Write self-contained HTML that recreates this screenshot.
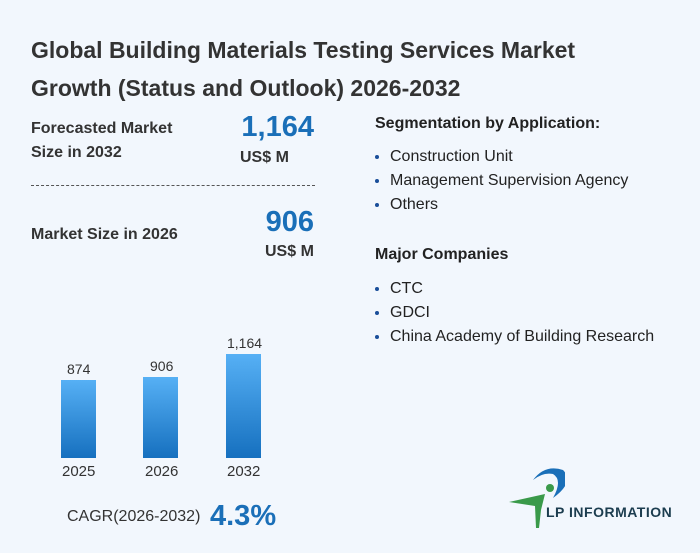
<!DOCTYPE html>
<html><head><meta charset="utf-8"><style>
body{margin:0}
#c{position:relative;width:700px;height:553px;background:#f2f7fd;font-family:"Liberation Sans",sans-serif;color:#333;overflow:hidden}
.a{position:absolute;white-space:nowrap}
.b{font-weight:bold}
.blue{color:#1a6fb8}
.bar{position:absolute;width:35px;background:linear-gradient(#56b0f5,#1670bf)}
.li{position:absolute;left:375px;font-size:16px;color:#222}
.li:before{content:"";position:absolute;left:0;top:7px;width:4px;height:4px;border-radius:50%;background:#1a4f9a}
.li span{margin-left:15px}
</style></head><body><div id="c">
<div class="a b" style="left:31px;top:31px;font-size:23px;line-height:38px;color:#333">Global Building Materials Testing Services Market<br>Growth (Status and Outlook) 2026-2032</div>
<div class="a b" style="left:31px;top:117px;font-size:16px;line-height:24px">Forecasted Market<br>Size in 2032</div>
<div class="a b blue" style="right:386px;top:111px;font-size:29px">1,164</div>
<div class="a b" style="left:240px;top:149px;font-size:16px">US$ M</div>
<div class="a" style="left:31px;top:185px;width:284px;border-top:1px dashed #555"></div>
<div class="a b" style="left:31px;top:226px;font-size:16px">Market Size in 2026</div>
<div class="a b blue" style="right:386px;top:206px;font-size:29px">906</div>
<div class="a b" style="left:265px;top:243px;font-size:16px">US$ M</div>

<div class="bar" style="left:61px;top:380px;height:78px"></div>
<div class="bar" style="left:143px;top:377px;height:81px"></div>
<div class="bar" style="left:226px;top:354px;height:104px"></div>
<div class="a" style="left:67px;top:361px;font-size:14px">874</div>
<div class="a" style="left:150px;top:358px;font-size:14px">906</div>
<div class="a" style="left:227px;top:335px;font-size:14px">1,164</div>
<div class="a" style="left:62px;top:463px;font-size:15px">2025</div>
<div class="a" style="left:145px;top:463px;font-size:15px">2026</div>
<div class="a" style="left:227px;top:463px;font-size:15px">2032</div>
<div class="a" style="left:67px;top:508px;font-size:16px">CAGR(2026-2032)</div>
<div class="a b blue" style="left:210px;top:500px;font-size:29px">4.3%</div>

<div class="a b" style="left:375px;top:115px;font-size:16px;color:#222">Segmentation by Application:</div>
<div class="li" style="top:148px"><span>Construction Unit</span></div>
<div class="li" style="top:172px"><span>Management Supervision Agency</span></div>
<div class="li" style="top:196px"><span>Others</span></div>
<div class="a b" style="left:375px;top:246px;font-size:16px;color:#222">Major Companies</div>
<div class="li" style="top:280px"><span>CTC</span></div>
<div class="li" style="top:304px"><span>GDCI</span></div>
<div class="li" style="top:328px"><span>China Academy of Building Research</span></div>

<svg class="a" style="left:505px;top:460px" width="60" height="70" viewBox="0 0 60 70">
<path d="M28 20 Q40 4 58 10 Q70 22 48 38 Q58 20 48 14 Q38 12 28 20Z" fill="#1a6fb8"/>
<circle cx="45" cy="28" r="4" fill="#3a9a4a"/>
<path d="M4 42 L40 34 L36 50 L34 68 L31 68 L30 46Z" fill="#3a9a4a"/>
</svg>
<div class="a b" style="left:546px;top:504px;font-size:14px;color:#1c3d4f;letter-spacing:0.5px">LP INFORMATION</div>
</div></body></html>
